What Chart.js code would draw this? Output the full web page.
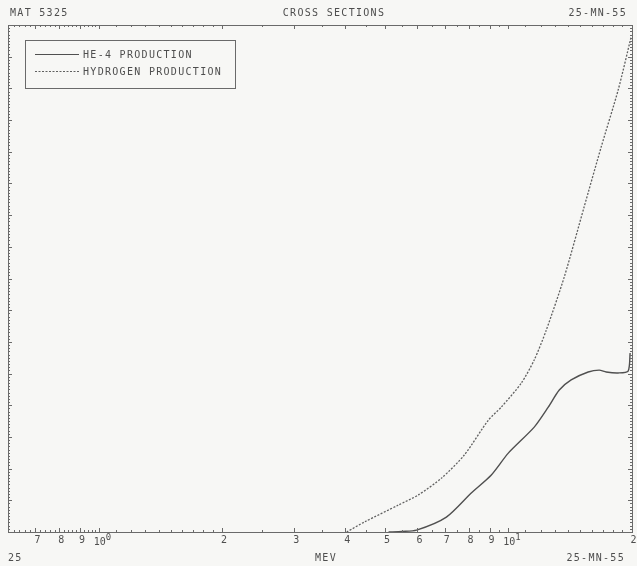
<!DOCTYPE html>
<html>
<head>
<meta charset="utf-8">
<script src="https://cdn.jsdelivr.net/npm/chart.js@4/dist/chart.umd.min.js"></script>
<style>
  html, body { margin: 0; padding: 0; background: #f7f7f5; }
  #wrap { width: 637px; height: 566px; }
</style>
</head>
<body>
<div id="wrap"><canvas id="c" width="637" height="566"></canvas></div>
<script>
// MAT 5325, Mn-55: He-4 and hydrogen production cross sections vs incident energy (MeV)
const energyHe4 = [5.10, 5.50, 5.97, 7.06, 8.12, 9.09, 10.0, 11.57, 12.52, 13.32, 14.24, 15.67, 16.67, 17.34, 18.55, 19.62, 19.84];
const sigmaHe4  = [0.0000, 0.0002, 0.0006, 0.0047, 0.0123, 0.0180, 0.0249, 0.0331, 0.0394, 0.0448, 0.0480, 0.0505, 0.0511, 0.0505, 0.0502, 0.0508, 0.0565];

const energyHyd = [4.03, 4.46, 5.39, 6.03, 6.87, 7.81, 8.94, 9.61, 10.76, 11.57, 12.38, 13.70, 15.32, 16.86, 18.55, 19.95];
const sigmaHyd  = [0.0000, 0.0032, 0.0085, 0.0117, 0.0170, 0.0243, 0.0353, 0.0394, 0.0470, 0.0543, 0.0637, 0.0805, 0.1026, 0.1215, 0.1395, 0.1562];

const seriesNames = ['HE-4 PRODUCTION', 'HYDROGEN PRODUCTION'];

// Labelled energy ticks on the log axis ("10^n" marks a decade)
const xTickValues = [0.7, 0.8, 0.9, 1, 2, 3, 4, 5, 6, 7, 8, 9, 10, 20];
const xTickLabels = ['7', '8', '9', '10^0', '2', '3', '4', '5', '6', '7', '8', '9', '10^1', '2'];

const headerLeft = 'MAT 5325';
const headerTitle = 'CROSS SECTIONS';
const headerRight = '25-MN-55';
const footerLeft = '25';
const footerTitle = 'MEV';
const footerRight = '25-MN-55';

const X_MIN = 0.606, X_MAX = 20.05;
const Y_MIN = 0, Y_MAX = 0.16;

const INK = '#4e4e4e';
const FONT = '10px "DejaVu Sans Mono", monospace';

function pairs(xs, ys) { return xs.map((v, i) => ({ x: v, y: ys[i] })); }

function spacedText(ctx, text, x, y, align) {
  ctx.save();
  ctx.letterSpacing = '1.3px';
  let w = ctx.measureText(text).width;
  let sx = x;
  if (align === 'center') sx = x - w / 2;
  else if (align === 'right') sx = x - w;
  ctx.textAlign = 'left';
  ctx.fillText(text, sx, y);
  ctx.restore();
}

const plotterFrame = {
  id: 'plotterFrame',
  beforeDraw(chart) {
    const { ctx } = chart;
    ctx.save();
    ctx.fillStyle = '#f7f7f5';
    ctx.fillRect(0, 0, chart.width, chart.height);
    ctx.restore();
  },
  afterDraw(chart) {
    const { ctx, chartArea: a, scales: { x, y } } = chart;
    ctx.save();
    ctx.strokeStyle = '#6a6a6a';
    ctx.lineWidth = 1;
    ctx.strokeRect(a.left + 0.5, a.top + 0.5, a.right - a.left, a.bottom - a.top);

    // x ticks, bottom and top edges
    const minorX = [];
    for (let v = 0.62; v < 1; v += 0.02) minorX.push(v);
    for (let v = 1.1; v < 2; v += 0.1) minorX.push(v);
    for (let v = 2.5; v < 10; v += 0.5) minorX.push(v);
    for (let v = 11; v < 20; v += 1) minorX.push(v);
    ctx.beginPath();
    minorX.forEach(v => {
      const px = Math.round(x.getPixelForValue(v)) + 0.5;
      ctx.moveTo(px, a.bottom); ctx.lineTo(px, a.bottom - 2);
      ctx.moveTo(px, a.top); ctx.lineTo(px, a.top + 2);
    });
    xTickValues.forEach(v => {
      const px = Math.round(x.getPixelForValue(v)) + 0.5;
      ctx.moveTo(px, a.bottom); ctx.lineTo(px, a.bottom - 4);
      ctx.moveTo(px, a.top); ctx.lineTo(px, a.top + 4);
    });
    ctx.stroke();

    // y ticks, left and right edges
    ctx.beginPath();
    for (let i = 0; i <= 160; i++) {
      const v = Y_MIN + i * 0.001;
      const py = Math.round(y.getPixelForValue(v)) + 0.5;
      const len = (i % 10 === 0) ? 4 : 2;
      ctx.moveTo(a.left, py); ctx.lineTo(a.left + len, py);
      ctx.moveTo(a.right, py); ctx.lineTo(a.right - len, py);
    }
    ctx.stroke();

    // tick labels
    ctx.fillStyle = INK;
    ctx.font = FONT;
    ctx.textBaseline = 'top';
    xTickValues.forEach((v, i) => {
      const px = x.getPixelForValue(v);
      const lab = xTickLabels[i];
      if (lab.indexOf('^') >= 0) {
        const [base, ex] = lab.split('^');
        ctx.textAlign = 'center';
        ctx.fillText(base, px + 1, a.bottom + 5);
        ctx.font = '9px "DejaVu Sans Mono", monospace';
        ctx.textAlign = 'left';
        ctx.fillText(ex, px + 7, a.bottom + 1);
        ctx.font = FONT;
      } else {
        ctx.textAlign = 'center';
        ctx.fillText(lab, px + 2, a.bottom + 3);
      }
    });

    // header and footer
    ctx.textBaseline = 'alphabetic';
    spacedText(ctx, headerLeft, 10, 16, 'left');
    spacedText(ctx, headerTitle, 334, 16, 'center');
    spacedText(ctx, headerRight, 627, 16, 'right');
    spacedText(ctx, footerLeft, 8, 561, 'left');
    spacedText(ctx, footerTitle, 326, 561, 'center');
    spacedText(ctx, footerRight, 625, 561, 'right');

    // legend box
    const ds = chart.data.datasets;
    ctx.strokeStyle = '#6a6a6a';
    ctx.lineWidth = 1;
    ctx.strokeRect(25.5, 40.5, 210, 48);
    const rows = [54, 71];
    rows.forEach((ry, i) => {
      ctx.save();
      ctx.strokeStyle = ds[i].borderColor;
      ctx.lineWidth = 1;
      ctx.setLineDash(ds[i].borderDash || []);
      ctx.beginPath();
      ctx.moveTo(35, ry + 0.5); ctx.lineTo(79, ry + 0.5);
      ctx.stroke();
      ctx.restore();
      ctx.fillStyle = INK;
      ctx.textBaseline = 'middle';
      spacedText(ctx, ds[i].label, 83, ry + 1, 'left');
    });
    ctx.restore();
  }
};

new Chart(document.getElementById('c'), {
  type: 'line',
  data: {
    datasets: [
      {
        label: seriesNames[0],
        data: pairs(energyHe4, sigmaHe4),
        borderColor: '#505050',
        borderWidth: 1.4,
        pointRadius: 0,
        tension: 0.25,
        fill: false
      },
      {
        label: seriesNames[1],
        data: pairs(energyHyd, sigmaHyd),
        borderColor: '#606060',
        borderWidth: 1.3,
        borderDash: [2, 1.5],
        pointRadius: 0,
        tension: 0.25,
        fill: false
      }
    ]
  },
  options: {
    responsive: false,
    animation: false,
    events: [],
    layout: { padding: { left: 8, top: 25, right: 5, bottom: 34 } },
    plugins: { legend: { display: false }, tooltip: { enabled: false } },
    scales: {
      x: { type: 'logarithmic', min: X_MIN, max: X_MAX, display: false },
      y: { type: 'linear', min: Y_MIN, max: Y_MAX, display: false }
    }
  },
  plugins: [plotterFrame]
});
</script>
</body>
</html>
